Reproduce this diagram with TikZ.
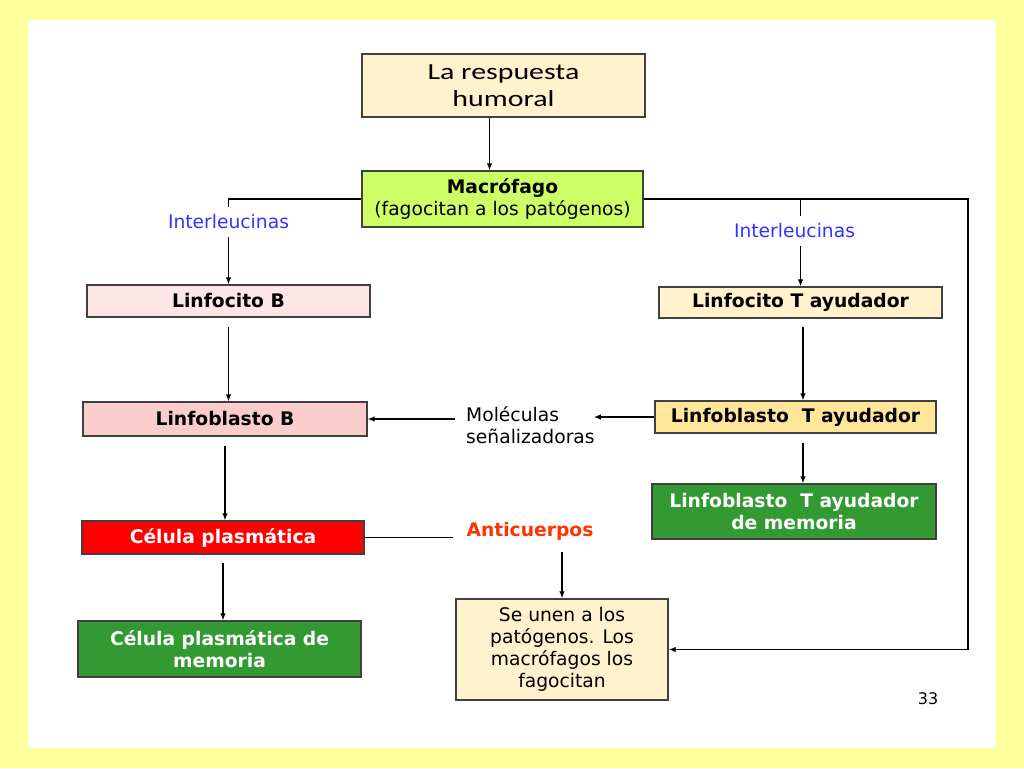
\documentclass[tikz,border=0pt]{standalone}
\usepackage{fontspec}
\setmainfont{DejaVu Sans}
\newfontfamily\titlefont[FakeStretch=1.3]{Carlito}
\usetikzlibrary{arrows.meta}

\definecolor{fondo}{HTML}{FFFF99}
\definecolor{crema}{HTML}{FFF2CC}
\definecolor{lima}{HTML}{CCFF66}
\definecolor{rosa}{HTML}{FFE6E6}
\definecolor{rosafuerte}{HTML}{FACCCC}
\definecolor{naranja}{HTML}{FFE699}
\definecolor{verde}{HTML}{339933}
\definecolor{azul}{HTML}{3333FF}
\definecolor{rojo}{HTML}{FF3300}

\begin{document}
\begin{tikzpicture}[x=1pt,y=-1pt,>={Latex[length=7pt,width=5.5pt]}]
        \tikzstyle{caja}=[draw=black!75,line width=1.4pt,inner sep=0pt,align=center,font=\fontsize{18.7}{22}\selectfont]
        \tikzstyle{texto}=[inner sep=3pt,align=center,font=\fontsize{18.7}{22}\selectfont]
        \tikzstyle{flecha}=[draw,line width=1.2pt,->]
        \tikzstyle{linea}=[draw,line width=1.2pt]
        % fondo de la diapositiva
        \fill[fondo] (0,0) rectangle (1024,768);
        \fill[white] (28,20) rectangle (996,748);
        % cajas
        \node [caja,fill=crema,minimum width=283pt,minimum height=63pt,font=\titlefont\fontsize{23}{27}\selectfont] (top) at (503.5,85.5) {La respuesta\\humoral};
        \node [caja,fill=lima,minimum width=281pt,minimum height=56pt] (macro) at (502.5,199) {\textbf{Macrófago}\\(fagocitan a los patógenos)};
        \node [caja,fill=rosa,minimum width=283pt,minimum height=32pt] (linfB) at (228.5,301) {\textbf{Linfocito B}};
        \node [caja,fill=crema,minimum width=283pt,minimum height=31pt] (linfT) at (800.5,302.5) {\textbf{Linfocito T ayudador}};
        \node [caja,fill=rosafuerte,minimum width=284pt,minimum height=34pt] (blastB) at (225,419) {\textbf{Linfoblasto B}};
        \node [caja,fill=naranja,minimum width=281pt,minimum height=32pt] (blastT) at (795.5,417) {\textbf{Linfoblasto\ \ T ayudador}};
        \node [caja,fill=verde,text=white,minimum width=284pt,minimum height=55pt] (memT) at (794,511.5) {\textbf{Linfoblasto\ \ T ayudador}\\\textbf{de memoria}};
        \node [caja,fill=red,text=white,minimum width=282pt,minimum height=33pt] (plasma) at (223,537.5) {\textbf{Célula plasmática}};
        \node [caja,fill=verde,text=white,minimum width=283pt,minimum height=56pt] (memP) at (219.5,649) {\textbf{Célula plasmática de}\\\textbf{memoria}};
        \node [caja,fill=crema,minimum width=212pt,minimum height=101pt] (unen) at (562,649.5) {Se unen a los\\patógenos. Los\\macrófagos los\\fagocitan};
        % textos sueltos
        \node [texto,text=azul,inner ysep=8pt] (il1) at (228.5,222) {Interleucinas};
        \node [texto,text=azul,inner ysep=8pt] (il2) at (794.5,231) {Interleucinas};
        \node [texto,align=left,anchor=west] (molec) at (463,425.5) {Moléculas\\señalizadoras};
        \node [texto,text=rojo] (antic) at (530,531.5) {\textbf{Anticuerpos}};
        \node [texto,font=\fontsize{16}{18}\selectfont] (num) at (928,699) {33};
        \coordinate (rc) at (968,199);
        \coordinate (rama) at (800.5,199);
        % conectores
        \path[flecha] ([xshift=-14pt]top.south) -- ([xshift=-13pt]macro.north);
        \path[linea] (macro.west) -| (il1.north);
        \path[flecha] (il1.south) -- (linfB.north);
        \path[flecha] (macro.east) -- (rc) |- (unen.east);
        \path[linea] (rama) -- (rama |- il2.north);
        \path[flecha] (rama |- il2.south) -- (linfT.north);
        \path[flecha,shorten <=9pt] (linfB.south) -- (linfB.south |- blastB.north);
        \path[flecha,shorten <=9pt] (blastB.south) -- (blastB.south |- plasma.north);
        \path[flecha,shorten <=8pt] (plasma.south) -- (plasma.south |- memP.north);
        \path[flecha,shorten <=8pt] ([xshift=2.5pt]linfT.south) -- ([xshift=2.5pt]linfT.south |- blastT.north);
        \path[flecha,shorten <=9pt] ([xshift=7.5pt]blastT.south) -- ([xshift=7.5pt]blastT.south |- memT.north);
        \path[flecha,shorten >=-4pt] (blastT.west) -- (blastT.west -| molec.east);
        \path[flecha,shorten <=8pt] (molec.west |- blastB.east) -- (blastB.east);
        \path[linea,shorten >=10pt] (plasma.east) -- (plasma.east -| antic.west);
        \path[flecha,shorten <=8pt] (antic.south -| unen.north) -- (unen.north);
\end{tikzpicture}
\end{document}
